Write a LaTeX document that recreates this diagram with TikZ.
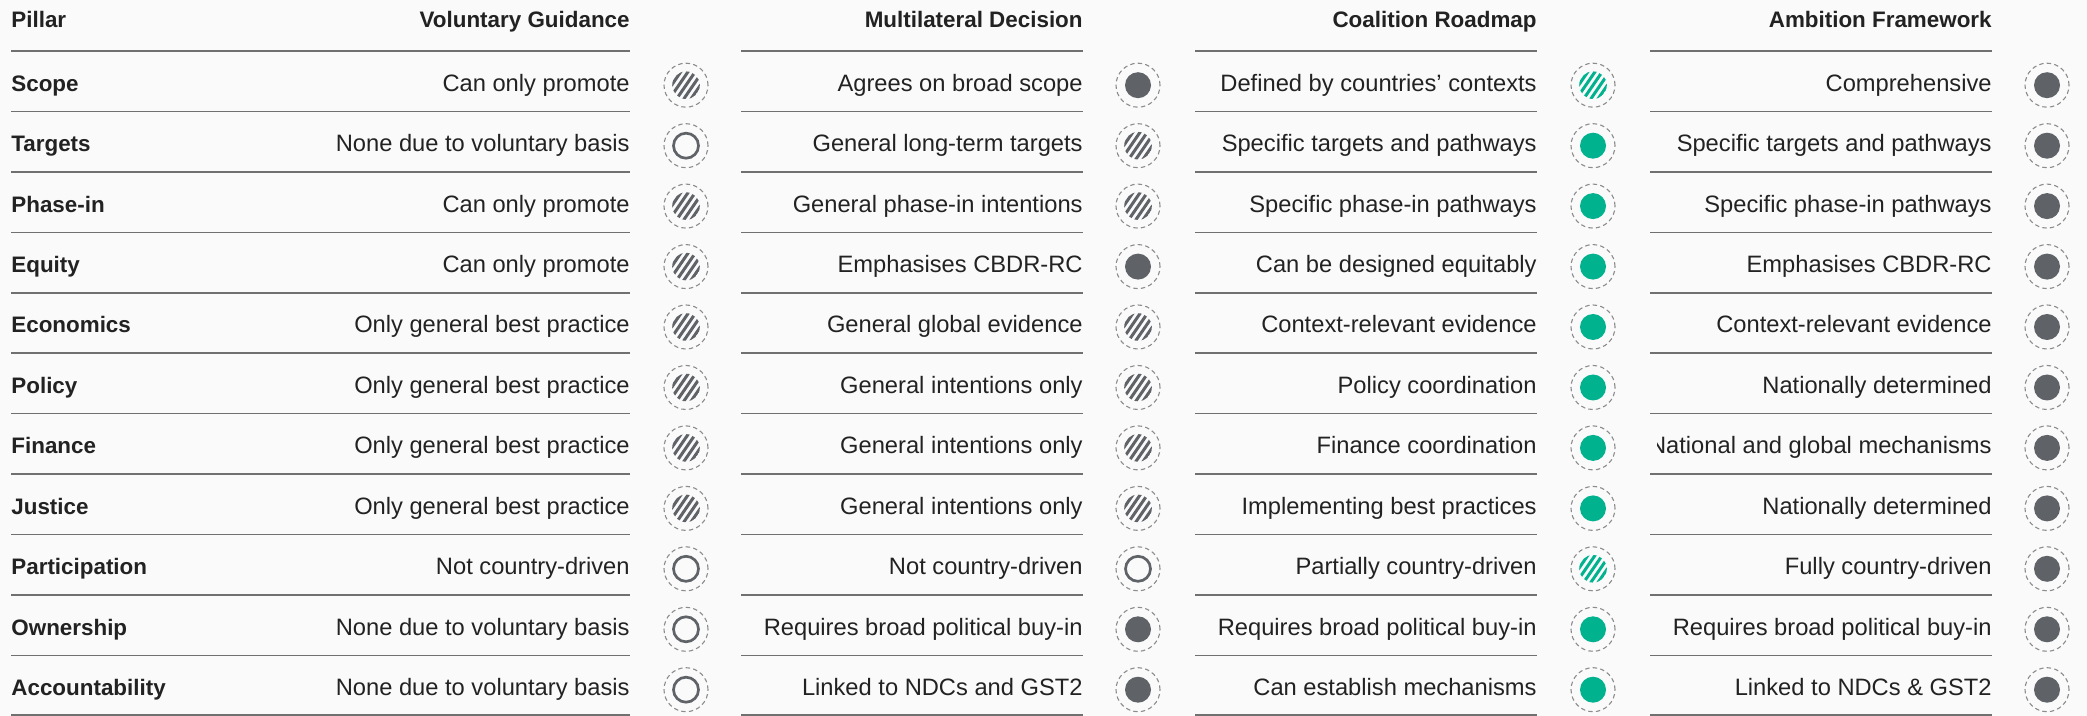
\documentclass[tikz,border=0pt]{standalone}
\usepackage{fontspec}
\setmainfont{Liberation Sans}
\usepackage{tikz}

\definecolor{ink}{HTML}{222222}
\definecolor{dotgray}{HTML}{5F6368}
\definecolor{dotteal}{HTML}{00B38E}
\definecolor{ringgray}{HTML}{8C8C8C}
\definecolor{rulegray}{HTML}{707070}
\definecolor{paper}{HTML}{FAFAFA}

\tikzset{
  cell/.style={anchor=base east, inner sep=0pt, text=ink, font=\fontsize{11.85}{14}\selectfont},
  pillar/.style={anchor=base west, inner sep=0pt, text=ink, font=\bfseries\fontsize{11.2}{13}\selectfont},
  head/.style={pillar, anchor=base east},
  headrule/.style={draw=rulegray, line width=1.4pt},
  rowrule/.style={draw=rulegray, line width=0.8pt},
  ring/.style={circle, inner sep=0pt, minimum size=22pt, draw=ringgray, line width=0.55pt, dash pattern=on 2.2pt off 1.6pt},
  dotfull/.style={ring, path picture={\fill[#1] (path picture bounding box.center) circle (6.5pt);}},
  dotnone/.style={ring, path picture={\draw[solid, dotgray, line width=1.35pt] (path picture bounding box.center) circle (6.25pt);}},
  dothalf/.style={ring, path picture={
      \begin{scope}[shift={(path picture bounding box.center)}]
        \clip (0,0) circle (6.9pt);
        \foreach \k in {-4,...,4}
          \draw[solid, #1, line width=1.5pt] (\k*3.6pt-5.5pt,-8pt) -- ++(11pt,16pt);
      \end{scope}}}
}

\begin{document}
\begin{tikzpicture}[x=0.5pt, y=-0.5pt]
      \fill[paper] (0,0) rectangle (2087,716);
      \useasboundingbox (0,0) rectangle (2087,716);

      \node[pillar] (pillar) at (11,28) {Pillar};
      \node[head] (vg) at (630,28) {Voluntary Guidance};
      \node[head] (md) at (1083,28) {Multilateral Decision};
      \node[head] (cr) at (1537,28) {Coalition Roadmap};
      \node[head] (af) at (1992,28) {Ambition Framework};

      \draw[headrule] (11,51) -- (630,51) (741,51) -- (1083,51) (1195,51) -- (1537,51) (1650,51) -- (1992,51);
      \draw[rowrule] (11,111.5) -- (630,111.5) (741,111.5) -- (1083,111.5) (1195,111.5) -- (1537,111.5) (1650,111.5) -- (1992,111.5);
      \draw[rowrule] (11,171.9) -- (630,171.9) (741,171.9) -- (1083,171.9) (1195,171.9) -- (1537,171.9) (1650,171.9) -- (1992,171.9);
      \draw[rowrule] (11,232.4) -- (630,232.4) (741,232.4) -- (1083,232.4) (1195,232.4) -- (1537,232.4) (1650,232.4) -- (1992,232.4);
      \draw[rowrule] (11,292.8) -- (630,292.8) (741,292.8) -- (1083,292.8) (1195,292.8) -- (1537,292.8) (1650,292.8) -- (1992,292.8);
      \draw[rowrule] (11,353.3) -- (630,353.3) (741,353.3) -- (1083,353.3) (1195,353.3) -- (1537,353.3) (1650,353.3) -- (1992,353.3);
      \draw[rowrule] (11,413.7) -- (630,413.7) (741,413.7) -- (1083,413.7) (1195,413.7) -- (1537,413.7) (1650,413.7) -- (1992,413.7);
      \draw[rowrule] (11,474.2) -- (630,474.2) (741,474.2) -- (1083,474.2) (1195,474.2) -- (1537,474.2) (1650,474.2) -- (1992,474.2);
      \draw[rowrule] (11,534.6) -- (630,534.6) (741,534.6) -- (1083,534.6) (1195,534.6) -- (1537,534.6) (1650,534.6) -- (1992,534.6);
      \draw[rowrule] (11,595.1) -- (630,595.1) (741,595.1) -- (1083,595.1) (1195,595.1) -- (1537,595.1) (1650,595.1) -- (1992,595.1);
      \draw[rowrule] (11,655.5) -- (630,655.5) (741,655.5) -- (1083,655.5) (1195,655.5) -- (1537,655.5) (1650,655.5) -- (1992,655.5);
      \draw[rowrule] (11,715) -- (630,715) (741,715) -- (1083,715) (1195,715) -- (1537,715) (1650,715) -- (1992,715);

      \node[pillar] (p1) at (11,91.2) {Scope};
      \node[cell] (vg1) at (630,91.2) {Can only promote};
      \node[dothalf=dotgray] (vgdot1) at (686,85.2) {};
      \node[cell] (md1) at (1083,91.2) {Agrees on broad scope};
      \node[dotfull=dotgray] (mddot1) at (1138,85.2) {};
      \node[cell] (cr1) at (1537,91.2) {Defined by countries’ contexts};
      \node[dothalf=dotteal] (crdot1) at (1593,85.2) {};
      \node[cell] (af1) at (1992,91.2) {Comprehensive};
      \node[dotfull=dotgray] (afdot1) at (2047,85.2) {};

      \node[pillar] (p2) at (11,151.7) {Targets};
      \node[cell] (vg2) at (630,151.7) {None due to voluntary basis};
      \node[dotnone] (vgdot2) at (686,145.7) {};
      \node[cell] (md2) at (1083,151.7) {General long-term targets};
      \node[dothalf=dotgray] (mddot2) at (1138,145.7) {};
      \node[cell] (cr2) at (1537,151.7) {Specific targets and pathways};
      \node[dotfull=dotteal] (crdot2) at (1593,145.7) {};
      \node[cell] (af2) at (1992,151.7) {Specific targets and pathways};
      \node[dotfull=dotgray] (afdot2) at (2047,145.7) {};

      \node[pillar] (p3) at (11,212.1) {Phase-in};
      \node[cell] (vg3) at (630,212.1) {Can only promote};
      \node[dothalf=dotgray] (vgdot3) at (686,206.1) {};
      \node[cell] (md3) at (1083,212.1) {General phase-in intentions};
      \node[dothalf=dotgray] (mddot3) at (1138,206.1) {};
      \node[cell] (cr3) at (1537,212.1) {Specific phase-in pathways};
      \node[dotfull=dotteal] (crdot3) at (1593,206.1) {};
      \node[cell] (af3) at (1992,212.1) {Specific phase-in pathways};
      \node[dotfull=dotgray] (afdot3) at (2047,206.1) {};

      \node[pillar] (p4) at (11,272.6) {Equity};
      \node[cell] (vg4) at (630,272.6) {Can only promote};
      \node[dothalf=dotgray] (vgdot4) at (686,266.6) {};
      \node[cell] (md4) at (1083,272.6) {Emphasises CBDR-RC};
      \node[dotfull=dotgray] (mddot4) at (1138,266.6) {};
      \node[cell] (cr4) at (1537,272.6) {Can be designed equitably};
      \node[dotfull=dotteal] (crdot4) at (1593,266.6) {};
      \node[cell] (af4) at (1992,272.6) {Emphasises CBDR-RC};
      \node[dotfull=dotgray] (afdot4) at (2047,266.6) {};

      \node[pillar] (p5) at (11,333.0) {Economics};
      \node[cell] (vg5) at (630,333.0) {Only general best practice};
      \node[dothalf=dotgray] (vgdot5) at (686,327.0) {};
      \node[cell] (md5) at (1083,333.0) {General global evidence};
      \node[dothalf=dotgray] (mddot5) at (1138,327.0) {};
      \node[cell] (cr5) at (1537,333.0) {Context-relevant evidence};
      \node[dotfull=dotteal] (crdot5) at (1593,327.0) {};
      \node[cell] (af5) at (1992,333.0) {Context-relevant evidence};
      \node[dotfull=dotgray] (afdot5) at (2047,327.0) {};

      \node[pillar] (p6) at (11,393.5) {Policy};
      \node[cell] (vg6) at (630,393.5) {Only general best practice};
      \node[dothalf=dotgray] (vgdot6) at (686,387.5) {};
      \node[cell] (md6) at (1083,393.5) {General intentions only};
      \node[dothalf=dotgray] (mddot6) at (1138,387.5) {};
      \node[cell] (cr6) at (1537,393.5) {Policy coordination};
      \node[dotfull=dotteal] (crdot6) at (1593,387.5) {};
      \node[cell] (af6) at (1992,393.5) {Nationally determined};
      \node[dotfull=dotgray] (afdot6) at (2047,387.5) {};

      \node[pillar] (p7) at (11,453.9) {Finance};
      \node[cell] (vg7) at (630,453.9) {Only general best practice};
      \node[dothalf=dotgray] (vgdot7) at (686,447.9) {};
      \node[cell] (md7) at (1083,453.9) {General intentions only};
      \node[dothalf=dotgray] (mddot7) at (1138,447.9) {};
      \node[cell] (cr7) at (1537,453.9) {Finance coordination};
      \node[dotfull=dotteal] (crdot7) at (1593,447.9) {};
      \begin{scope}
        \clip (1657,420) rectangle (2000,480);
        \node[cell] (af7) at (1992,453.9) {National and global mechanisms};
      \end{scope}
      \node[dotfull=dotgray] (afdot7) at (2047,447.9) {};

      \node[pillar] (p8) at (11,514.4) {Justice};
      \node[cell] (vg8) at (630,514.4) {Only general best practice};
      \node[dothalf=dotgray] (vgdot8) at (686,508.4) {};
      \node[cell] (md8) at (1083,514.4) {General intentions only};
      \node[dothalf=dotgray] (mddot8) at (1138,508.4) {};
      \node[cell] (cr8) at (1537,514.4) {Implementing best practices};
      \node[dotfull=dotteal] (crdot8) at (1593,508.4) {};
      \node[cell] (af8) at (1992,514.4) {Nationally determined};
      \node[dotfull=dotgray] (afdot8) at (2047,508.4) {};

      \node[pillar] (p9) at (11,574.8) {Participation};
      \node[cell] (vg9) at (630,574.8) {Not country-driven};
      \node[dotnone] (vgdot9) at (686,568.8) {};
      \node[cell] (md9) at (1083,574.8) {Not country-driven};
      \node[dotnone] (mddot9) at (1138,568.8) {};
      \node[cell] (cr9) at (1537,574.8) {Partially country-driven};
      \node[dothalf=dotteal] (crdot9) at (1593,568.8) {};
      \node[cell] (af9) at (1992,574.8) {Fully country-driven};
      \node[dotfull=dotgray] (afdot9) at (2047,568.8) {};

      \node[pillar] (p10) at (11,635.3) {Ownership};
      \node[cell] (vg10) at (630,635.3) {None due to voluntary basis};
      \node[dotnone] (vgdot10) at (686,629.3) {};
      \node[cell] (md10) at (1083,635.3) {Requires broad political buy-in};
      \node[dotfull=dotgray] (mddot10) at (1138,629.3) {};
      \node[cell] (cr10) at (1537,635.3) {Requires broad political buy-in};
      \node[dotfull=dotteal] (crdot10) at (1593,629.3) {};
      \node[cell] (af10) at (1992,635.3) {Requires broad political buy-in};
      \node[dotfull=dotgray] (afdot10) at (2047,629.3) {};

      \node[pillar] (p11) at (11,695.7) {Accountability};
      \node[cell] (vg11) at (630,695.7) {None due to voluntary basis};
      \node[dotnone] (vgdot11) at (686,689.7) {};
      \node[cell] (md11) at (1083,695.7) {Linked to NDCs and GST2};
      \node[dotfull=dotgray] (mddot11) at (1138,689.7) {};
      \node[cell] (cr11) at (1537,695.7) {Can establish mechanisms};
      \node[dotfull=dotteal] (crdot11) at (1593,689.7) {};
      \node[cell] (af11) at (1992,695.7) {Linked to NDCs \& GST2};
      \node[dotfull=dotgray] (afdot11) at (2047,689.7) {};
\end{tikzpicture}
\end{document}
